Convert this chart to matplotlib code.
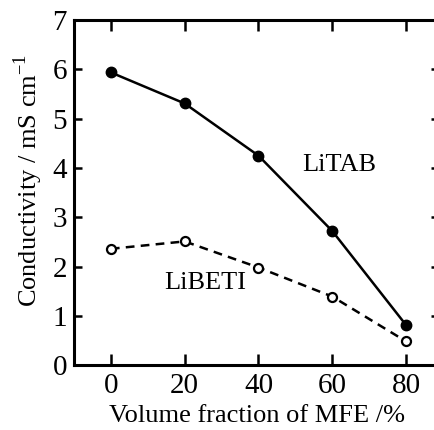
import matplotlib.pyplot as plt

# data
mfe = [0, 20, 40, 60, 80]
litab = [5.94, 5.31, 4.25, 2.72, 0.81]
libeti = [2.36, 2.51, 1.98, 1.39, 0.48]

plt.rcParams['font.family'] = ['Liberation Serif', 'DejaVu Serif']

fig = plt.figure(figsize=(4.35, 4.3), dpi=100)
ax = fig.add_axes([0.170, 0.151, 0.840, 0.802])

ax.plot(mfe, litab, '-', color='black', lw=1.8, marker='o', ms=7.5,
        mfc='black', mec='black')
ax.plot(mfe, libeti, '--', color='black', lw=1.8, dashes=(3.5, 2.5), marker='o',
        ms=6.5, mfc='white', mec='black', mew=1.6)

ax.text(61.9, 4.06, 'LiTAB', fontsize=19, ha='center', va='center')
ax.text(25.7, 1.66, 'LiBETI', fontsize=19, ha='center', va='center')

ax.set_xlim(-10, 89)
ax.set_ylim(0, 7)
ax.set_xticks(mfe)
ax.set_yticks(range(0, 8))
ax.tick_params(axis='x', direction='in', length=8, width=1.8, top=True,
               labelsize=21, pad=6)
ax.tick_params(axis='y', direction='in', length=6, width=1.8, right=True,
               labelsize=21, pad=5)
for s in ax.spines.values():
    s.set_linewidth(2.2)

ax.set_xlabel('Volume fraction of MFE /%', fontsize=19, labelpad=4)
ax.set_ylabel('Conductivity / mS cm$^{\\mathregular{-1}}$', fontsize=19)
ax.yaxis.set_label_coords(-0.08, 0.535)

fig.savefig('out.png', dpi=100)
